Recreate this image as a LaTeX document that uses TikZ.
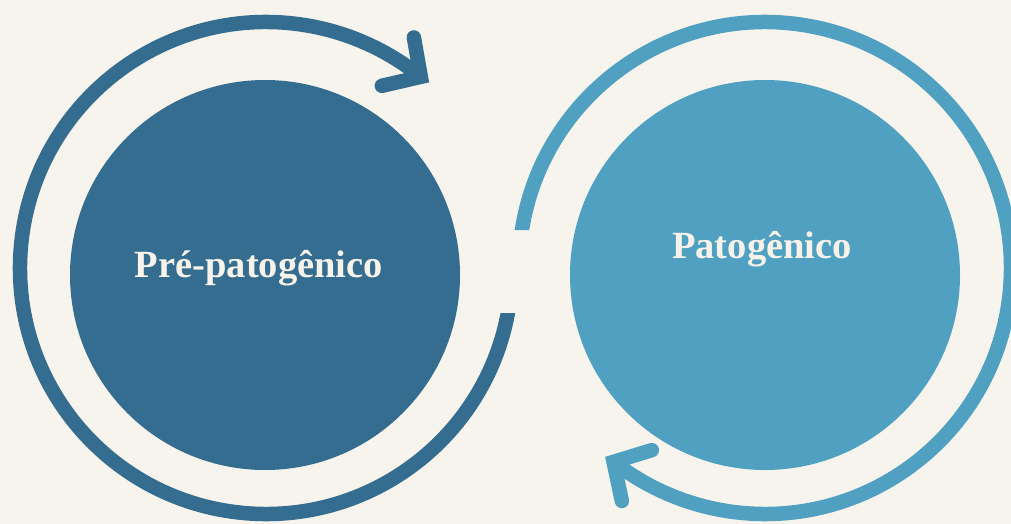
\documentclass[tikz,border=0pt]{standalone}
\usepackage{fontspec}
\usetikzlibrary{calc}
\setmainfont{Liberation Serif}
\definecolor{bgc}{HTML}{F7F4ED}
\definecolor{darkb}{HTML}{346D90}
\definecolor{lightb}{HTML}{50A0C2}
\definecolor{txtc}{HTML}{F7F3EA}
\begin{document}
\begin{tikzpicture}[x=1pt,y=-1pt,
  ring/.style={line width=14.5pt},
  chevron/.style={line width=14.5pt, line cap=round, line join=miter, miter limit=10},
  disc/.style={circle, minimum size=390pt, inner sep=0pt},
  lbl/.style={text=txtc, font=\fontsize{38.5}{40}\selectfont\bfseries, anchor=base, inner sep=0pt}]
\useasboundingbox[fill=bgc] (0,0) rectangle (1011,524);
% discs
\node[disc, fill=darkb] (pre) at (265,275) {};
\node[disc, fill=lightb] (pat) at (765,275) {};
% left ring (flat horizontal cut at y=313)
\coordinate (lc) at (266,268);
\begin{scope}
  \clip (0,0) -- (480,0) -- (480,313) -- (1011,313) -- (1011,524) -- (0,524) -- cycle;
  \draw[ring, darkb] ($(lc)+(-354:246)$) arc[start angle=-354, end angle=-51, radius=246] coordinate (ltip);
\end{scope}
\draw[chevron, darkb] ($(ltip)+(-100:40)$) -- (ltip) -- ($(ltip)+(167:40)$);
% right ring (flat horizontal cut at y=230)
\coordinate (rc) at (765,268);
\begin{scope}
  \clip (0,0) -- (1011,0) -- (1011,524) -- (560,524) -- (560,230) -- (0,230) -- cycle;
  \draw[ring, lightb] ($(rc)+(-175:246)$) arc[start angle=-175, end angle=128, radius=246] coordinate (rtip);
\end{scope}
\draw[chevron, lightb] ($(rtip)+(-17:40)$) -- (rtip) -- ($(rtip)+(78:40)$);
% labels
\node[lbl] (t1) at (259,277) {Pré-patogênico};
\node[lbl] (t2) at (762,258) {Patogênico};
\end{tikzpicture}
\end{document}
